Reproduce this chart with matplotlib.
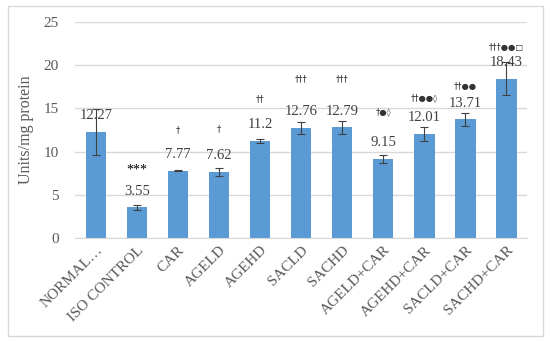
import numpy as np
import matplotlib.pyplot as plt
from matplotlib.patches import Rectangle

plt.rcParams.update({'font.family': ['Liberation Serif', 'DejaVu Serif']})

groups = ['NORMAL…', 'ISO CONTROL', 'CAR', 'AGELD', 'AGEHD', 'SACLD', 'SACHD',
          'AGELD+CAR', 'AGEHD+CAR', 'SACLD+CAR', 'SACHD+CAR']
values = [12.27, 3.55, 7.77, 7.62, 11.2, 12.76, 12.79, 9.15, 12.01, 13.71, 18.43]
errors = [2.65, 0.3, 0.05, 0.5, 0.25, 0.7, 0.8, 0.5, 0.8, 0.7, 1.9]
marks = ['', '***', '†', '†', '††', '†††', '†††', '†●◊', '††●●◊', '††●●', '†††●●□']
mark_y = [None, 7.9, 12.5, 12.6, 16.1, 18.4, 18.4, 14.6, 16.2, 17.5, 22.0]

fig = plt.figure(figsize=(5.5, 3.42), dpi=100)
ax = fig.add_axes([0.137, 0.304, 0.821, 0.632])

# rahmen um die ganze figur
fig.patches.append(Rectangle((8/550, 6/342), 535/550, 330/342, transform=fig.transFigure,
                             fill=False, edgecolor='#d9d9d9', lw=1))

x = np.arange(len(groups))
ax.bar(x, values, width=0.5, color='#5b9bd5', zorder=2)
ax.errorbar(x, values, yerr=errors, fmt='none', ecolor='#404040', elinewidth=0.8,
            capsize=3, capthick=0.8, zorder=3)

for xi, v in zip(x, values):
    ax.annotate(f'{v:g}', (xi, v), xytext=(0, 7), textcoords='offset points',
                ha='center', va='bottom', fontsize=10.5, color='#404040', zorder=4)

for xi, m, my in zip(x, marks, mark_y):
    if not m:
        continue
    if m == '***':
        ax.text(xi, my, m, ha='center', va='center', fontsize=10, color='black')
    else:
        ax.text(xi, my, m, ha='center', va='center', fontsize=6, color='#333333',
                family=['DejaVu Sans'])

ax.set_xlim(-0.5, len(groups) - 0.5)
ax.set_ylim(0, 25)
ax.set_yticks(range(0, 26, 5))
ax.yaxis.grid(True, color='#d9d9d9', lw=1, zorder=0)
ax.set_axisbelow(True)
for s in ['top', 'right', 'left']:
    ax.spines[s].set_visible(False)
ax.spines['bottom'].set_color('#d9d9d9')
ax.tick_params(axis='both', length=0, colors='#595959', labelsize=11)
ax.tick_params(axis='y', pad=12)
ax.tick_params(axis='x', pad=4)
ax.set_xticks(x)
ax.set_xticklabels(groups, rotation=45, ha='right', rotation_mode='anchor')
ax.set_ylabel('Units/mg protein', fontsize=11.5, color='#595959', labelpad=7)

fig.savefig('out.png', dpi=100)
